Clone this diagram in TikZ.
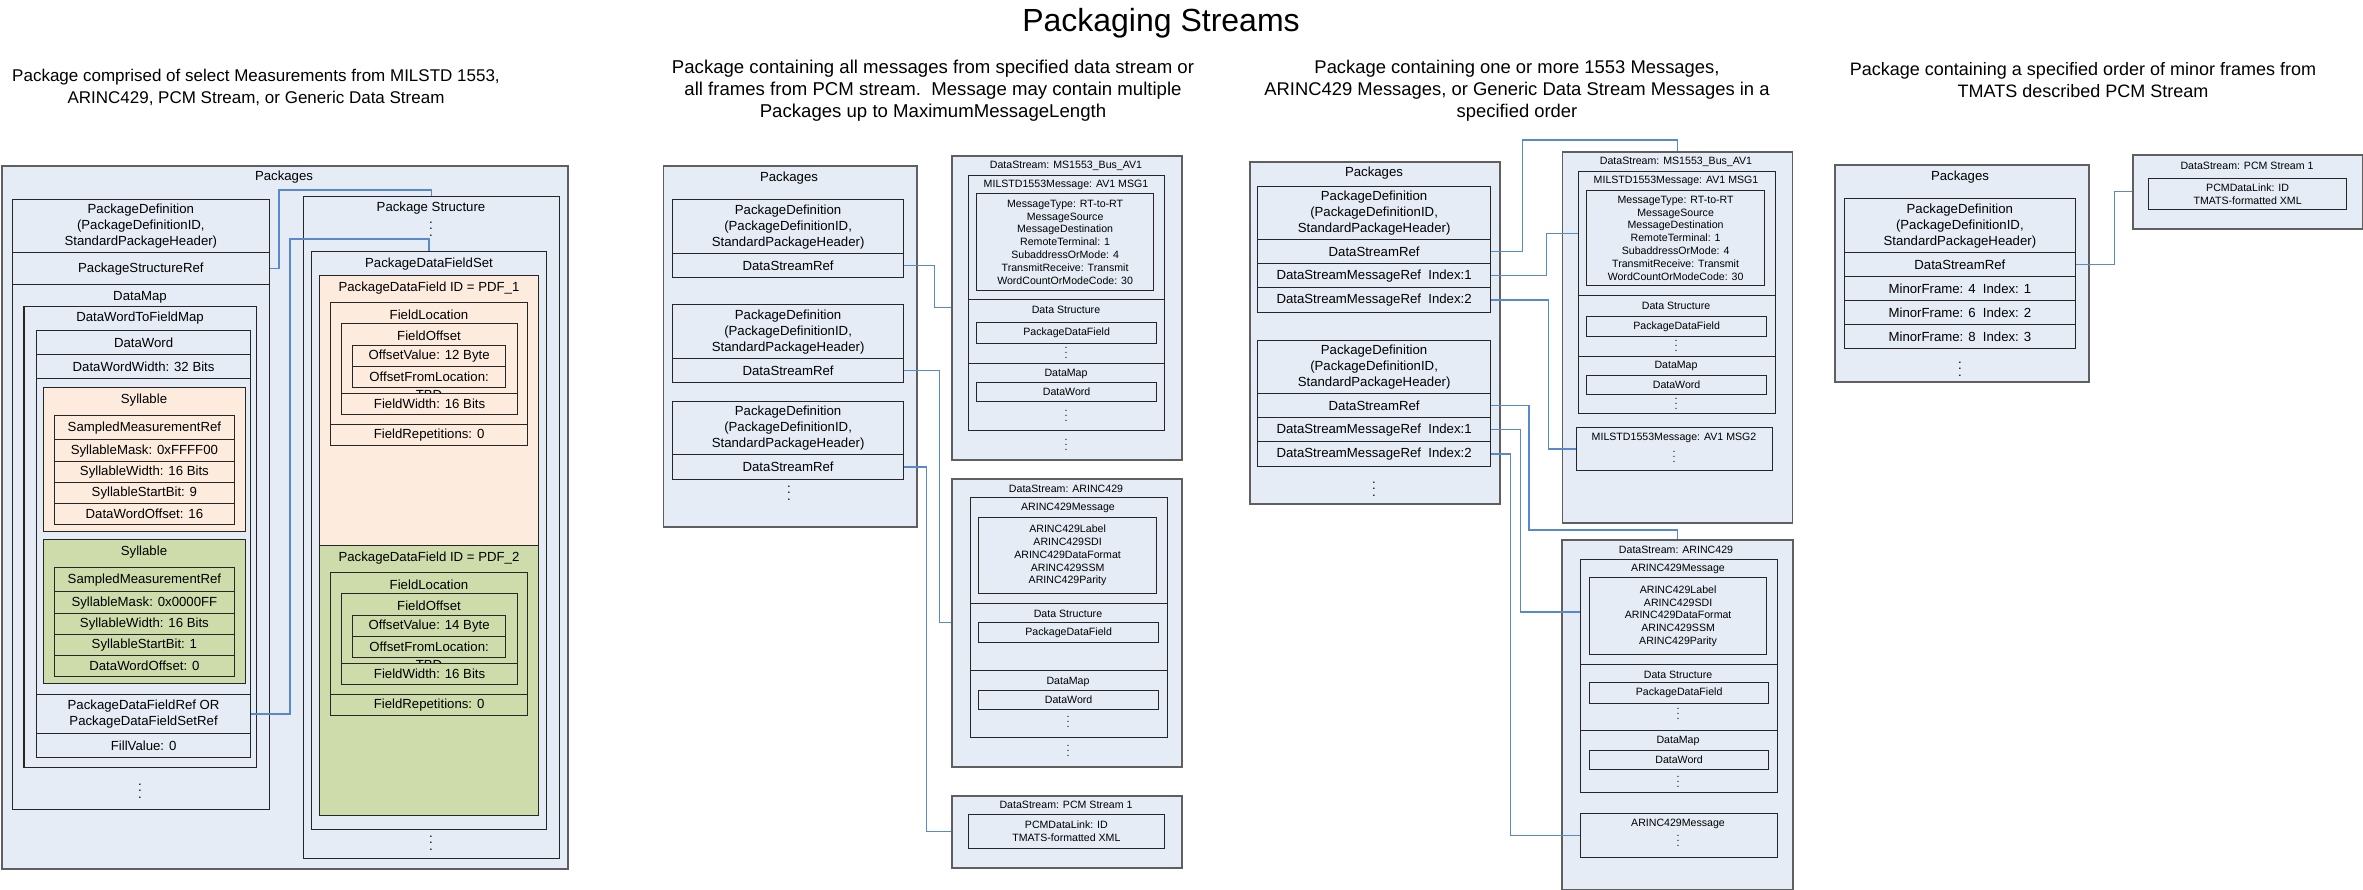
\documentclass[tikz,border=0pt]{standalone}
\usepackage{fontspec}
\setmainfont{Liberation Sans}
\usepackage{xcolor}
\usepackage{tikz}
\usetikzlibrary{positioning}

\definecolor{pkgfill}{RGB}{229,236,246}
\definecolor{peach}{RGB}{253,235,222}
\definecolor{sage}{RGB}{205,220,170}
\definecolor{linkblue}{RGB}{88,136,205}
\definecolor{framegray}{RGB}{95,95,95}

\newcommand{\bodyfont}{\fontsize{13.2}{16}\selectfont}
\newcommand{\smallfont}{\fontsize{10.6}{12.8}\selectfont}
\newcommand{\vdts}{\vbox{\baselineskip=.48em\lineskiplimit=0pt\hbox{.}\hbox{.}\hbox{.}}}

\begin{document}
\begin{tikzpicture}[
  x=1pt, y=-1pt,
  cell/.style n args={4}{anchor=north west, at={(#1,#2)}, minimum width={((#3)-(#1))*1pt}, minimum height={((#4)-(#2))*1pt}},
  pnl/.style={draw=framegray, line width=1.6pt, fill=pkgfill, inner sep=0pt},
  box/.style={draw=black!85, line width=1.2pt, fill=pkgfill, inner sep=0pt, font=\bodyfont, align=center},
  sbox/.style={box, font=\smallfont},
  lbl/.style={font=\bodyfont, inner sep=0pt, align=center},
  slbl/.style={font=\smallfont, inner sep=0pt, align=center},
  dots/.style={font=\bodyfont, inner sep=0pt},
  sdots/.style={font=\smallfont, inner sep=0pt},
  sub/.style={font=\fontsize{#1}{22}\selectfont, inner sep=0pt, align=center},
  link/.style={draw=linkblue, line width=1.3pt},
]
\useasboundingbox (0,0) rectangle (2363,890);

% Titles
\node[font=\fontsize{32}{38}\selectfont, inner sep=0pt] (title) at (1161,23) {Packaging Streams};
\node[sub=17] (sub1) at (256,87) {Package comprised of select Measurements from MILSTD 1553,\\ARINC429, PCM Stream, or Generic Data Stream};
\node[sub=18.6] (sub2) at (933,91) {Package containing all messages from specified data stream or\\all frames from PCM stream.\ \ Message may contain multiple\\Packages up to MaximumMessageLength};
\node[sub=18.4] (sub3) at (1517,91) {Package containing one or more 1553 Messages,\\ARINC429 Messages, or Generic Data Stream Messages in a\\specified order};
\node[sub=18] (sub4) at (2083,80) {Package containing a specified order of minor frames from\\TMATS described PCM Stream};

% Panel 1: select measurements
\node[pnl, cell={1}{165}{567}{868}] (p1) {};
\node[lbl] (p1-t) at (284,177) {Packages};
\node[box, cell={11.5}{199}{269}{809}] (p1-map) {};
\node[box, cell={11.5}{199}{269}{252}] (p1-def) {PackageDefinition\\(PackageDefinitionID,\\StandardPackageHeader)};
\node[box, cell={11.5}{252}{269}{284}] (p1-ref) {PackageStructureRef};
\node[lbl] (p1-map-t) at (140,297) {DataMap};
\node[box, cell={23.3}{306}{256}{767}] (p1-dwf) {};
\node[lbl] (p1-dwf-t) at (140,318) {DataWordToFieldMap};
\node[box, cell={36}{330}{250}{757}] (p1-dw) {};
\node[box, cell={36}{330}{250}{354}] (p1-dw-r1) {DataWord};
\node[box, cell={36}{354}{250}{378}] (p1-dw-r2) {DataWordWidth: 32 Bits};
\node[box, cell={36}{694}{250}{733}] (p1-dw-r3) {PackageDataFieldRef OR\\PackageDataFieldSetRef};
\node[box, cell={36}{733}{250}{757}] (p1-dw-r4) {FillValue: 0};
\node[dots] (p1-map-d) at (140,791) {\vdts};
\foreach \dy/\fc/\sn/\sm/\sb/\so in {0/peach/1/0xFFFF00/9/16, 152/sage/2/0x0000FF/1/0}{
  \node[box, fill=\fc, cell={43}{387+\dy}{244.5}{531+\dy}] (syl\sn) {};
  \node[lbl] (syl\sn-t) at (144,400+\dy) {Syllable};
  \node[box, fill=\fc, cell={53.6}{415+\dy}{234}{439+\dy}] (syl\sn-r1) {SampledMeasurementRef};
  \node[box, fill=\fc, cell={53.6}{439+\dy}{234}{461+\dy}] (syl\sn-r2) {SyllableMask: \sm};
  \node[box, fill=\fc, cell={53.6}{461+\dy}{234}{482+\dy}] (syl\sn-r3) {SyllableWidth: 16 Bits};
  \node[box, fill=\fc, cell={53.6}{482+\dy}{234}{503+\dy}] (syl\sn-r4) {SyllableStartBit: \sb};
  \node[box, fill=\fc, cell={53.6}{503+\dy}{234}{524+\dy}] (syl\sn-r5) {DataWordOffset: \so};
}
\node[box, cell={303}{196}{558.6}{858}] (p1-ps) {};
\node[lbl] (p1-ps-t) at (431,208) {Package Structure};
\node[dots] (p1-ps-d1) at (431,229) {\vdts};
\node[box, cell={311}{251}{546}{829}] (p1-set) {};
\node[lbl] (p1-set-t) at (429,264) {PackageDataFieldSet};
\node[dots] (p1-ps-d2) at (431,843) {\vdts};
\foreach \dy/\fc/\pn/\ov in {0/peach/1/12, 270/sage/2/14}{
  \node[box, fill=\fc, cell={319}{275+\dy}{538}{545+\dy}] (pdf\pn) {};
  \node[lbl] (pdf\pn-t) at (429,288+\dy) {PackageDataField ID = PDF\_\pn};
  \node[box, fill=\fc, cell={330}{302+\dy}{527}{445+\dy}] (pdf\pn-loc) {};
  \node[lbl] (pdf\pn-loc-t) at (429,315+\dy) {FieldLocation};
  \node[box, fill=\fc, cell={341}{323+\dy}{517}{414+\dy}] (pdf\pn-off) {};
  \node[lbl] (pdf\pn-off-t) at (429,336+\dy) {FieldOffset};
  \node[box, fill=\fc, cell={352}{345+\dy}{505}{366+\dy}] (pdf\pn-val) {OffsetValue: \ov\ Byte};
  \node[box, fill=\fc, cell={352}{366+\dy}{505}{387+\dy}] (pdf\pn-from) {OffsetFromLocation:};
  \node[lbl] (pdf\pn-tbd) at (429,395+\dy) {TBD};
  \node[box, fill=\fc, cell={341}{393+\dy}{517}{414+\dy}] (pdf\pn-wid) {FieldWidth: 16 Bits};
  \node[box, fill=\fc, cell={330}{424+\dy}{527}{445+\dy}] (pdf\pn-rep) {FieldRepetitions: 0};
}
\coordinate (k1) at (279,190);
\coordinate (k2) at (290,239);
\draw[link] (p1-ref.east) -| (k1) -| (p1-ps.north);
\draw[link] (p1-dw-r3.east) -| (k2) -| (p1-set.north);

% Panel 2: whole data streams
\node[pnl, cell={662.5}{165}{916}{526}] (p2) {};
\node[lbl] (p2-t) at (789,178) {Packages};
\foreach \pn/\ya/\yb/\yc in {a/199/253/277, b/304/358/382, c/401/454/479}{
  \node[box, cell={672}{\ya}{903}{\yb}] (p2-def\pn) {PackageDefinition\\(PackageDefinitionID,\\StandardPackageHeader)};
  \node[box, cell={672}{\yb}{903}{\yc}] (p2-ref\pn) {DataStreamRef};
}
\node[dots] (p2-d) at (789,493) {\vdts};

\node[pnl, cell={951}{155}{1181}{459}] (p2-ds1) {};
\node[slbl] (p2-ds1-t) at (1066,166) {DataStream: MS1553\_Bus\_AV1};
\node[sbox, cell={967.5}{175}{1164}{299}] (p2-msg) {};
\node[slbl] (p2-msg-t) at (1066,185) {MILSTD1553Message: AV1 MSG1};
\node[sbox, cell={976}{193}{1153}{290}] (p2-msg-p) {MessageType: RT-to-RT\\MessageSource\\MessageDestination\\RemoteTerminal: 1\\SubaddressOrMode: 4\\TransmitReceive: Transmit\\WordCountOrModeCode: 30};
\node[sbox, cell={967.5}{299}{1164}{363}] (p2-str) {};
\node[slbl] (p2-str-t) at (1066,310) {Data Structure};
\node[sbox, cell={976}{322}{1156}{343}] (p2-str-f) {PackageDataField};
\node[sdots] (p2-str-d) at (1066,353) {\vdts};
\node[sbox, cell={967.5}{363}{1164}{430}] (p2-map) {};
\node[slbl] (p2-map-t) at (1066,374) {DataMap};
\node[sbox, cell={976}{382}{1156}{401}] (p2-map-w) {DataWord};
\node[sdots] (p2-map-d) at (1066,416) {\vdts};
\node[sdots] (p2-ds1-d) at (1066,445) {\vdts};

\node[pnl, cell={951}{478}{1181}{766}] (p2-ds2) {};
\node[slbl] (p2-ds2-t) at (1066,489) {DataStream: ARINC429};
\node[sbox, cell={970}{497}{1167}{603}] (p2-arm) {};
\node[slbl] (p2-arm-t) at (1068,508) {ARINC429Message};
\node[sbox, cell={978}{517}{1156}{593}] (p2-arm-p) {ARINC429Label\\ARINC429SDI\\ARINC429DataFormat\\ARINC429SSM\\ARINC429Parity};
\node[sbox, cell={970}{603}{1167}{670}] (p2-ars) {};
\node[slbl] (p2-ars-t) at (1068,614) {Data Structure};
\node[sbox, cell={978}{622}{1158}{642}] (p2-ars-f) {PackageDataField};
\node[sbox, cell={970}{670}{1167}{737}] (p2-arp) {};
\node[slbl] (p2-arp-t) at (1068,682) {DataMap};
\node[sbox, cell={978}{690}{1158}{709}] (p2-arp-w) {DataWord};
\node[sdots] (p2-arp-d) at (1068,722) {\vdts};
\node[sdots] (p2-ds2-d) at (1068,751) {\vdts};

\node[pnl, cell={951}{795}{1181}{867}] (p2-ds3) {};
\node[slbl] (p2-ds3-t) at (1066,805) {DataStream: PCM Stream 1};
\node[sbox, cell={967.5}{814}{1164}{848}] (p2-pcm) {PCMDataLink: ID\\TMATS-formatted XML};

\draw[link] (p2-refa.east) -- ++(30,0) |- (p2-ds1.west);
\draw[link] (p2-refb.east) -- ++(35.6,0) |- (p2-ds2.west);
\draw[link] (p2-refc.east) -- ++(22,0) |- (p2-ds3.west);

% Panel 3: ordered messages
\node[pnl, cell={1249}{161}{1499}{503}] (p3) {};
\node[lbl] (p3-t) at (1374,173) {Packages};
\foreach \pn/\ya in {a/186, b/340}{
  \node[box, cell={1257}{\ya}{1490}{\ya+53}] (p3-def\pn) {PackageDefinition\\(PackageDefinitionID,\\StandardPackageHeader)};
  \node[box, cell={1257}{\ya+53}{1490}{\ya+77}] (p3-ref\pn) {DataStreamRef};
  \node[box, cell={1257}{\ya+77}{1490}{\ya+101}] (p3-idx1\pn) {DataStreamMessageRef\ \ Index:1};
  \node[box, cell={1257}{\ya+101}{1490}{\ya+126}] (p3-idx2\pn) {DataStreamMessageRef\ \ Index:2};
}
\node[dots] (p3-d) at (1374,489) {\vdts};

\node[pnl, cell={1561.5}{151}{1791.6}{522}] (p3-ds1) {};
\node[slbl] (p3-ds1-t) at (1676,162) {DataStream: MS1553\_Bus\_AV1};
\node[sbox, cell={1578}{171}{1774.6}{295}] (p3-msg) {};
\node[slbl] (p3-msg-t) at (1676,181) {MILSTD1553Message: AV1 MSG1};
\node[sbox, cell={1586}{190}{1764}{285}] (p3-msg-p) {MessageType: RT-to-RT\\MessageSource\\MessageDestination\\RemoteTerminal: 1\\SubaddressOrMode: 4\\TransmitReceive: Transmit\\WordCountOrModeCode: 30};
\node[sbox, cell={1578}{295}{1774.6}{356}] (p3-str) {};
\node[slbl] (p3-str-t) at (1676,306) {Data Structure};
\node[sbox, cell={1586}{316}{1766}{336}] (p3-str-f) {PackageDataField};
\node[sdots] (p3-str-d) at (1676,346) {\vdts};
\node[sbox, cell={1578}{356}{1774.6}{413}] (p3-map) {};
\node[slbl] (p3-map-t) at (1676,366) {DataMap};
\node[sbox, cell={1586}{375}{1766}{394}] (p3-map-w) {DataWord};
\node[sdots] (p3-map-d) at (1676,404) {\vdts};
\node[sbox, cell={1575.5}{427}{1772}{470}] (p3-msg2) {};
\node[slbl] (p3-msg2-t) at (1674,438) {MILSTD1553Message: AV1 MSG2};
\node[sdots] (p3-msg2-d) at (1674,457) {\vdts};

\node[pnl, cell={1561}{539}{1792}{889}] (p3-ds2) {};
\node[slbl] (p3-ds2-t) at (1676,550) {DataStream: ARINC429};
\node[sbox, cell={1580}{559}{1777}{664}] (p3-arm) {};
\node[slbl] (p3-arm-t) at (1678,569) {ARINC429Message};
\node[sbox, cell={1589}{577}{1766}{654}] (p3-arm-p) {ARINC429Label\\ARINC429SDI\\ARINC429DataFormat\\ARINC429SSM\\ARINC429Parity};
\node[sbox, cell={1580}{664}{1777}{730}] (p3-ars) {};
\node[slbl] (p3-ars-t) at (1678,675) {Data Structure};
\node[sbox, cell={1589}{682}{1768}{703}] (p3-ars-f) {PackageDataField};
\node[sdots] (p3-ars-d) at (1678,714) {\vdts};
\node[sbox, cell={1580}{730}{1777}{792}] (p3-arp) {};
\node[slbl] (p3-arp-t) at (1678,741) {DataMap};
\node[sbox, cell={1589}{750}{1768}{769}] (p3-arp-w) {DataWord};
\node[sdots] (p3-arp-d) at (1678,782) {\vdts};
\node[sbox, cell={1580}{813}{1777}{857}] (p3-arm2) {};
\node[slbl] (p3-arm2-t) at (1678,824) {ARINC429Message};
\node[sdots] (p3-arm2-d) at (1678,841) {\vdts};

\coordinate (k3) at (1522.6,140);
\coordinate (k4) at (1529,530);
\draw[link] (p3-refa.east) -| (k3) -| (p3-ds1.north);
\draw[link] (p3-idx1a.east) -- ++(55,0) |- (p3-msg.west);
\draw[link] (p3-idx2a.east) -- ++(57,0) |- (p3-msg2.west);
\draw[link] (p3-refb.east) -| (k4) -| (p3-ds2.north);
\draw[link] (p3-idx1b.east) -- ++(29,0) |- (p3-arm.west);
\draw[link] (p3-idx2b.east) -- ++(19,0) |- (p3-arm2.west);

% Panel 4: minor frames
\node[pnl, cell={1834}{164}{2088}{381}] (p4) {};
\node[lbl] (p4-t) at (1960,177) {Packages};
\node[box, cell={1843.5}{198}{2075}{252}] (p4-def) {PackageDefinition\\(PackageDefinitionID,\\StandardPackageHeader)};
\node[box, cell={1843.5}{252}{2075}{276}] (p4-ref) {DataStreamRef};
\node[box, cell={1843.5}{276}{2075}{300}] (p4-mf1) {MinorFrame: 4\ \ Index: 1};
\node[box, cell={1843.5}{300}{2075}{324}] (p4-mf2) {MinorFrame: 6\ \ Index: 2};
\node[box, cell={1843.5}{324}{2075}{348}] (p4-mf3) {MinorFrame: 8\ \ Index: 3};
\node[dots] (p4-d) at (1960,369) {\vdts};

\node[pnl, cell={2132}{154}{2361.5}{228}] (p4-ds) {};
\node[slbl] (p4-ds-t) at (2247,166) {DataStream: PCM Stream 1};
\node[sbox, cell={2148}{178}{2346}{209}] (p4-pcm) {PCMDataLink: ID\\TMATS-formatted XML};

\draw[link] (p4-ref.east) -- ++(38.6,0) |- (p4-ds.west);
\end{tikzpicture}
\end{document}
